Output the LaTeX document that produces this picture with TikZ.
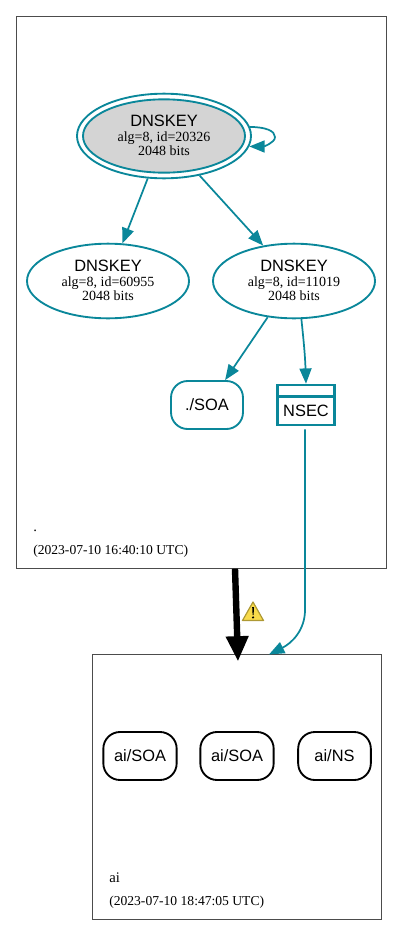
\documentclass[tikz,border=0pt]{standalone}
\usepackage{fontspec}
\setmainfont{Liberation Serif}
\newfontfamily\hv{Liberation Sans}
\usetikzlibrary{shapes.geometric,arrows.meta,calc}
\definecolor{dteal}{HTML}{0A879A}
\definecolor{warnY}{HTML}{F8DA4A}
\tikzset{
  px/.style={x=0.75pt,y=-0.75pt},
  clusterbox/.style={draw=black!70,line width=0.5pt,fill=none,rectangle,inner sep=0,anchor=north west},
  keynode/.style={ellipse,draw=dteal,line width=1.4pt,inner sep=0,align=center,font=\fontsize{10.5}{10.6}\selectfont},
  recnode/.style={rectangle,rounded corners=12.5pt,line width=1.4pt,inner sep=0,minimum height=36pt,font=\hv\fontsize{12.3}{14}\selectfont},
  edgeline/.style={draw=dteal,line width=1.3pt,-{Triangle[length=11.5pt,width=9pt]}},
  zonelabel/.style={anchor=base west,inner sep=0,font=\fontsize{10.2}{12}\selectfont},
  zonename/.style={anchor=base west,inner sep=0,font=\fontsize{11}{12}\selectfont},
}
\newcommand{\keytext}[1]{{\hv\fontsize{12.3}{13}\selectfont DNSKEY}\\[0.2pt]alg=8, id=#1\\2048 bits\rule[-1.2pt]{0pt}{1.2pt}}
\begin{document}
\begin{tikzpicture}[px]
\useasboundingbox (0,0) rectangle (403,935);
\node[clusterbox,minimum width=277.5pt,minimum height=414pt] (zroot) at (16,16) {};
\node[clusterbox,minimum width=216.8pt,minimum height=198.8pt] (zai) at (92,653.5) {};
\node[zonename] (lroot) at (33,531) {.};
\node[zonelabel] (droot) at (33,554) {(2023-07-10 16:40:10 UTC)};
\node[zonename] (lai) at (109,882) {ai};
\node[zonelabel] (dai) at (109,905) {(2023-07-10 18:47:05 UTC)};
\node[keynode,minimum width=130.5pt,minimum height=63.5pt] (rootout) at (164,136) {};
\node[keynode,fill=black!17,minimum width=121.5pt,minimum height=55pt] (rootk) at (164,136) {\keytext{20326}};
\node[keynode,minimum width=121.5pt,minimum height=56pt] (k1) at (108,281) {\keytext{60955}};
\node[keynode,minimum width=121.5pt,minimum height=56pt] (k2) at (294,281) {\keytext{11019}};
\node[recnode,draw=dteal,minimum width=54pt] (soa) at (207,405) {./SOA};
\node[rectangle,draw=dteal,line width=1.9pt,minimum width=43pt,minimum height=30pt,inner sep=0] (nsec) at (306,405) {};
\node[inner sep=0,font=\hv\fontsize{12.3}{14}\selectfont] (nsect) at (306,410.5) {NSEC};
\coordinate (nsecdl) at ($(nsec.north west)+(0,13)$);
\coordinate (nsecdr) at ($(nsec.north east)+(0,13)$);
\draw[dteal,line width=1.9pt] (nsecdl) -- (nsecdr);
\node[recnode,draw=black,minimum width=55pt] (a1) at (140,756) {ai/SOA};
\node[recnode,draw=black,minimum width=55pt] (a2) at (237,756) {ai/SOA};
\node[recnode,draw=black,minimum width=54.5pt] (a3) at (334.5,756) {ai/NS};
\draw[edgeline] (rootout.6) .. controls (266,127) and (275,131) .. (275,137) .. controls (275,143) and (263,146.5) .. (rootout.-7);
\draw[edgeline] (rootout.249) -- (k1.69);
\draw[edgeline] (rootout.-48) -- (k2.131.6);
\draw[edgeline] (k2.234.5) -- (soa.54.7);
\draw[edgeline] (k2.281) .. controls (303,335) and (305,353) .. (nsec.north);
\coordinate (nsecout) at ($(nsec.south)+(-1,3)$);
\coordinate (aiin) at ($(zai.north west)+(177,1)$);
\draw[edgeline] (nsecout) -- (305,610) .. controls (305,630) and (292,643) .. (aiin);
\coordinate (zs) at ($(zroot.south west)+(219,0)$);
\coordinate (zt) at ($(zai.north west)+(146,8)$);
\draw[line width=4.8pt,-{Triangle[length=19pt,width=16pt]}] (zs) -- (zt);
\fill[warnY,draw=black!30!warnY,line width=0.9pt,line join=round] (253,602) -- (263.5,620.5) -- (242.5,620.5) -- cycle;
\fill[black] (252.2,607) -- (254,607) -- (253.6,615) -- (252.6,615) -- cycle;
\fill[black] (253.1,617.4) circle[radius=1.2];
\end{tikzpicture}
\end{document}
